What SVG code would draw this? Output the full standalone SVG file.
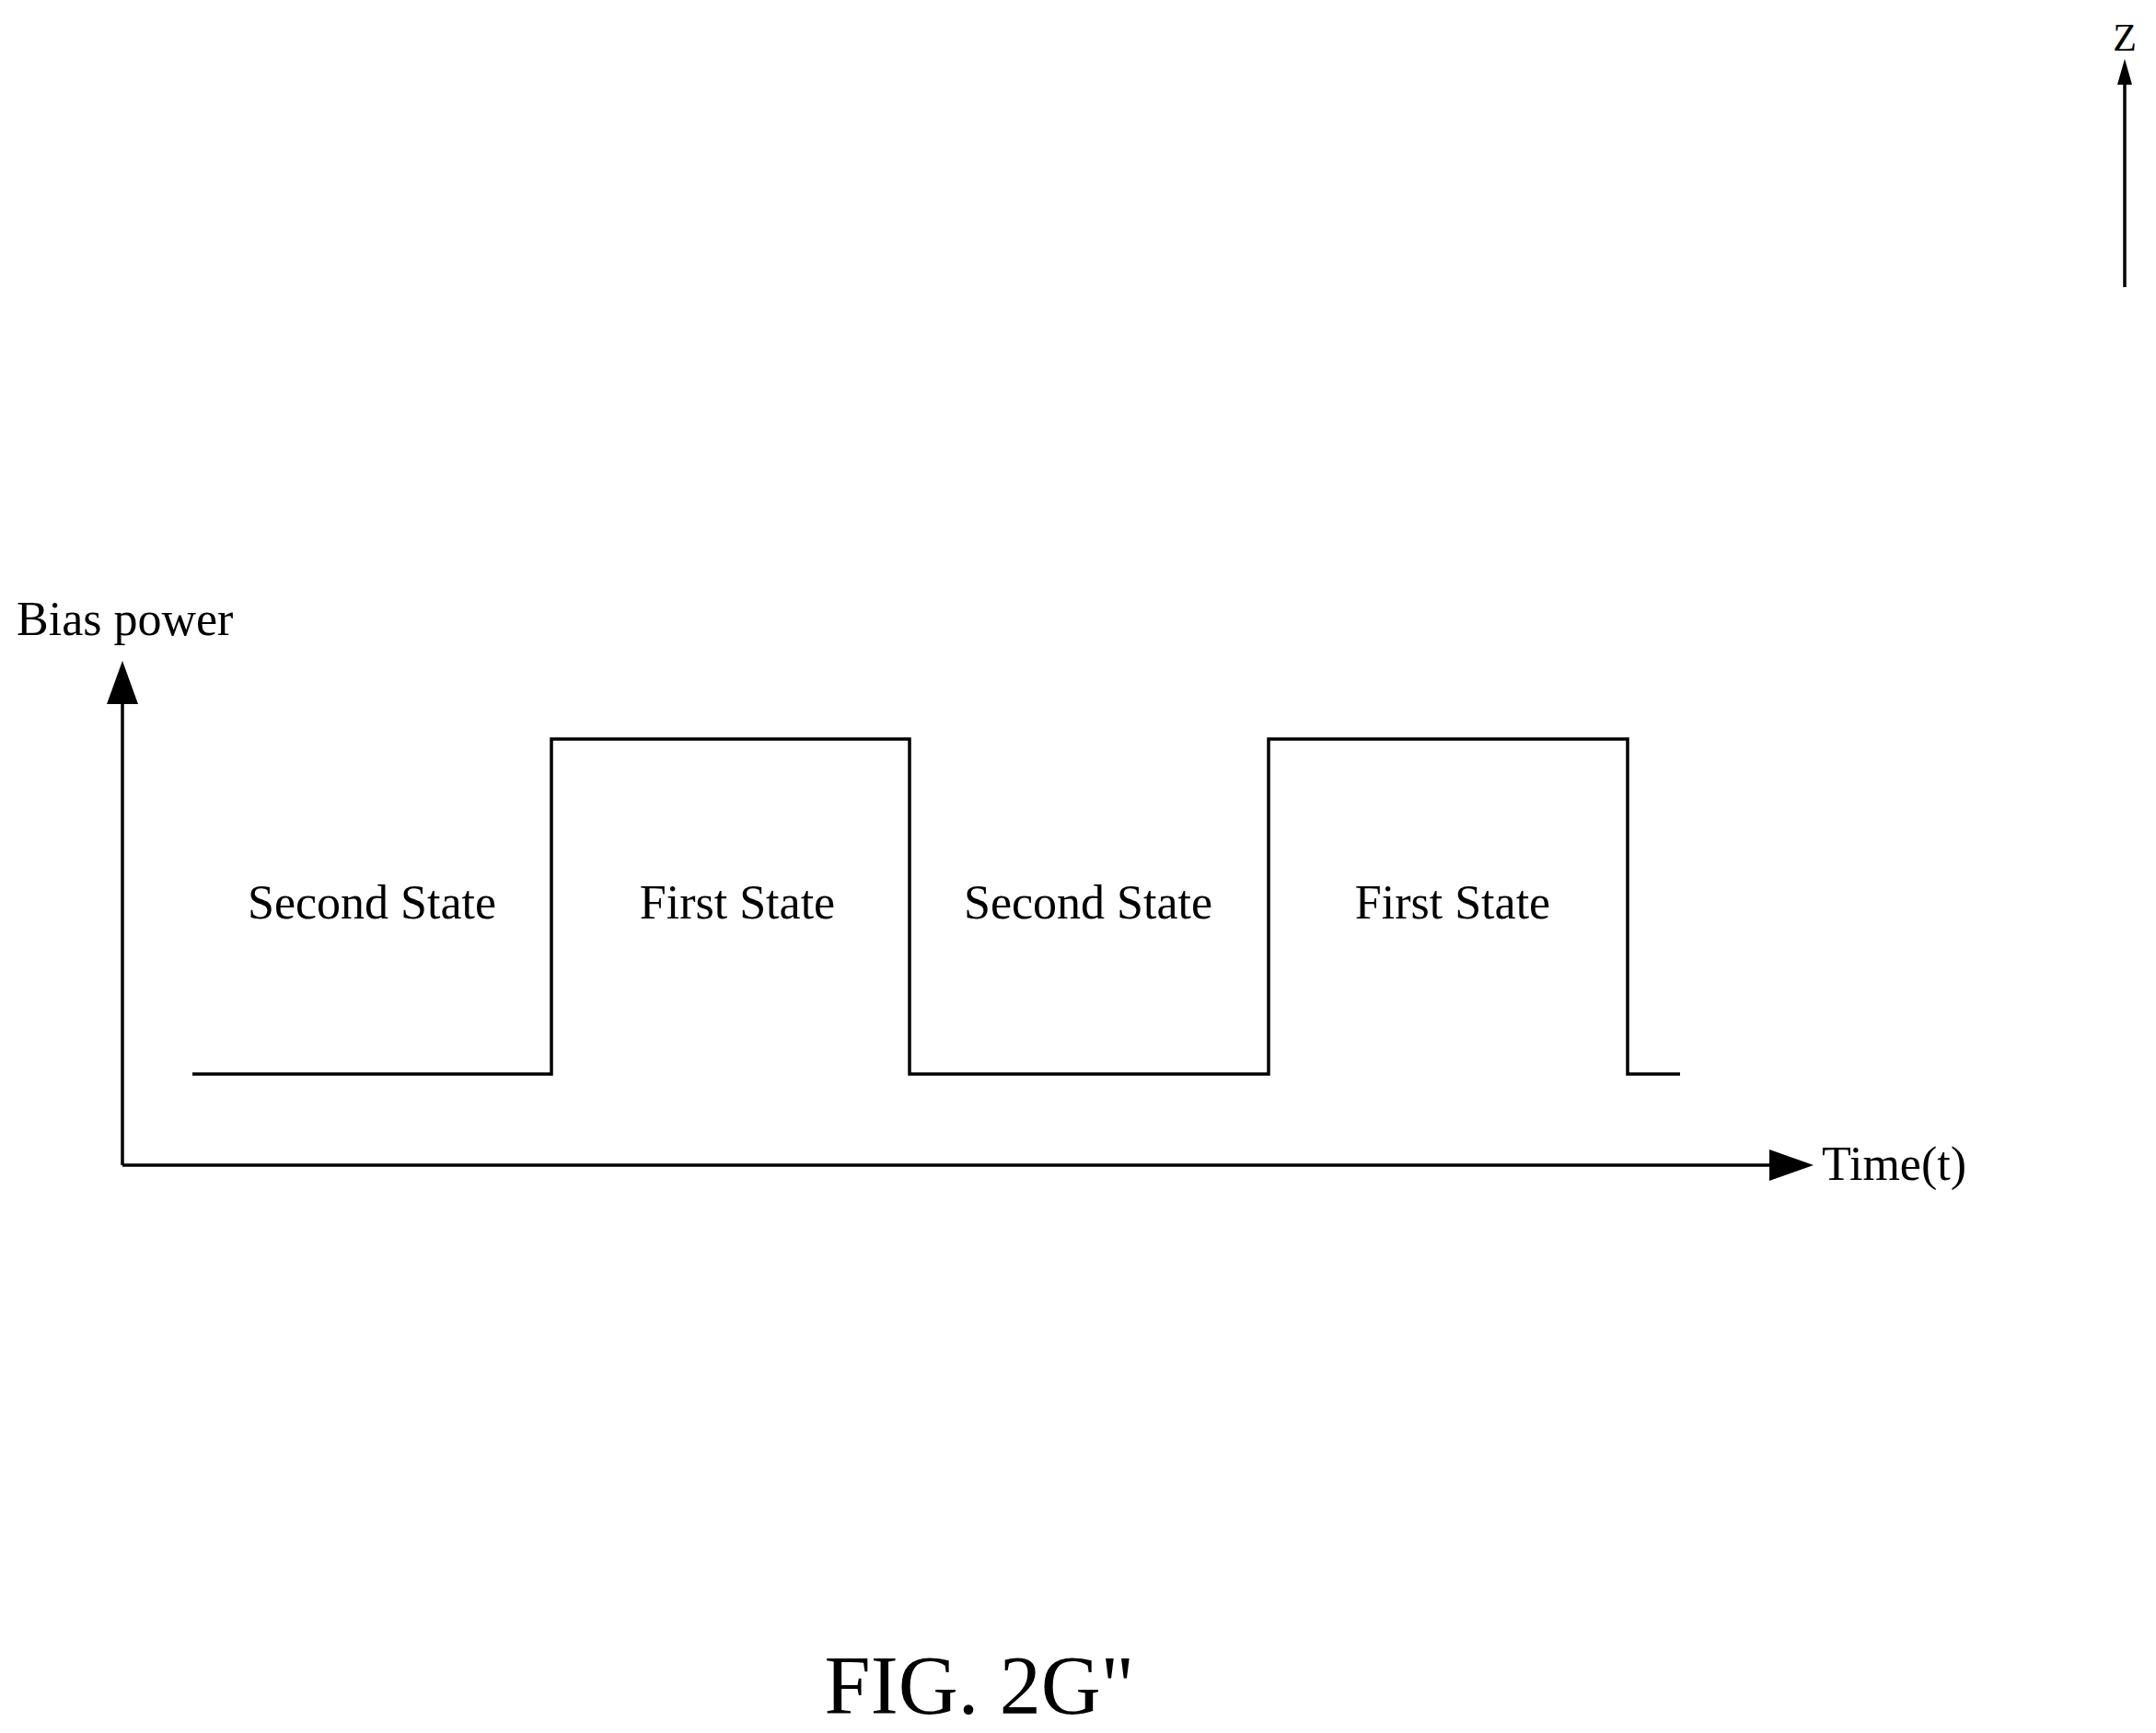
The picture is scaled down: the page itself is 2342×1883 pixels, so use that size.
<svg xmlns="http://www.w3.org/2000/svg" width="2342" height="1883" viewBox="0 0 2342 1883">
<style>
text{font-family:"Liberation Serif",serif;fill:#000}
.l{stroke:#000;stroke-width:3.5;fill:none}
</style>
<rect width="2342" height="1883" fill="#fff"/>
<g id="connectors">
<line class="l" x1="2308" y1="312" x2="2308" y2="90"/>
<polygon points="2308,64 2300,92 2316,92"/>
<line class="l" x1="133" y1="1266" x2="133" y2="760"/>
<polygon points="133,718 116,765 150,765"/>
<line class="l" x1="133" y1="1266" x2="1925" y2="1266"/>
<polygon points="1970,1266 1922,1249 1922,1283"/>
<polyline class="l" points="209,1167 599,1167 599,803 988,803 988,1167 1378,1167 1378,803 1768,803 1768,1167 1825,1167"/>
</g>
<g id="labels" font-size="52">
<text x="2308" y="55" font-size="42" text-anchor="middle">Z</text>
<text x="18" y="690">Bias power</text>
<text x="1979" y="1282">Time(t)</text>
<text x="404" y="998" text-anchor="middle">Second State</text>
<text x="801" y="998" text-anchor="middle">First State</text>
<text x="1182" y="998" text-anchor="middle">Second State</text>
<text x="1578" y="998" text-anchor="middle">First State</text>
<text x="1064" y="1862" font-size="90" text-anchor="middle">FIG. 2G"</text>
</g>
</svg>
